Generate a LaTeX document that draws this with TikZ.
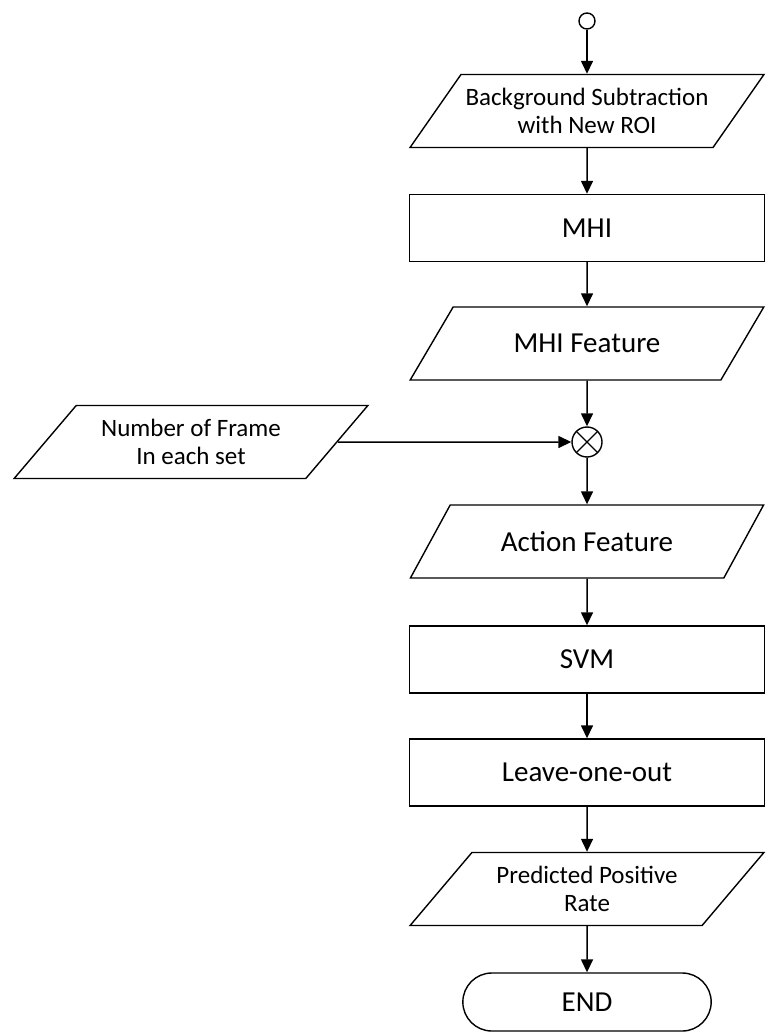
\documentclass[tikz,border=0pt]{standalone}
\usepackage{fontspec}
\setmainfont{Carlito}
\usepackage{tikz}
\usetikzlibrary{shapes,shapes.geometric,shapes.misc}
\usetikzlibrary{calc,arrows.meta,positioning}
\tikzset{
  box/.style={draw, line width=1.4pt, minimum width=355pt, minimum height=67pt,
  text centered, font=\fontsize{29}{32}\selectfont},
  io/.style={trapezium, trapezium left angle=46, trapezium right angle=134,
  trapezium stretches=true, draw, line width=1.4pt, minimum width=354pt,
  minimum height=73pt, align=center, font=\fontsize{29}{32}\selectfont},
  smalltext/.style={font=\fontsize{25}{28}\selectfont},
  term/.style={rounded rectangle, draw, line width=1.4pt, minimum width=255pt,
  minimum height=58pt, font=\fontsize{29}{32}\selectfont},
  joint/.style={circle, draw, line width=1.4pt, minimum size=30pt, inner sep=0pt,
  path picture={
	\draw[line width=1.2pt] (path picture bounding box.north west) --
	(path picture bounding box.south east);
	\draw[line width=1.2pt] (path picture bounding box.north east) --
	(path picture bounding box.south west);}},
  startdot/.style={circle, draw, line width=1.4pt, minimum size=16pt, inner sep=0pt},
  flow/.style={draw, line width=1.5pt, -{Triangle[length=13pt,width=12pt]}}
}

\begin{document}
\begin{tikzpicture}[x=1pt,y=-1pt]
\useasboundingbox (0,0) rectangle (765,1035);
% main column
\node[startdot] (start) at (587,21) {};
\node[io,smalltext] (bgs) at (587,111) {Background Subtraction\\with New ROI};
\node[box] (mhi) at (587,228) {MHI};
\node[io] (mhif) at (587,343.5) {MHI Feature};
\node[joint] (join) at (587,442) {};
\node[io,smalltext] (frames) at (191,442) {Number of Frame\\In each set};
\node[io] (act) at (587,541.5) {Action Feature};
\node[box] (svm) at (587,659.5) {SVM};
\node[box] (loo) at (587,772.5) {Leave-one-out};
\node[io,smalltext] (ppr) at (587,889) {Predicted Positive\\Rate};
\node[term] (end) at (587,1002) {END};
% connectors
\draw[flow] (start) -- (bgs);
\draw[flow] (bgs) -- (mhi);
\draw[flow] (mhi) -- (mhif);
\draw[flow] (mhif) -- (join);
\draw[flow] (frames) -- (join);
\draw[flow] (join) -- (act);
\draw[flow] (act) -- (svm);
\draw[flow] (svm) -- (loo);
\draw[flow] (loo) -- (ppr);
\draw[flow] (ppr) -- (end);
\end{tikzpicture}
\end{document}
